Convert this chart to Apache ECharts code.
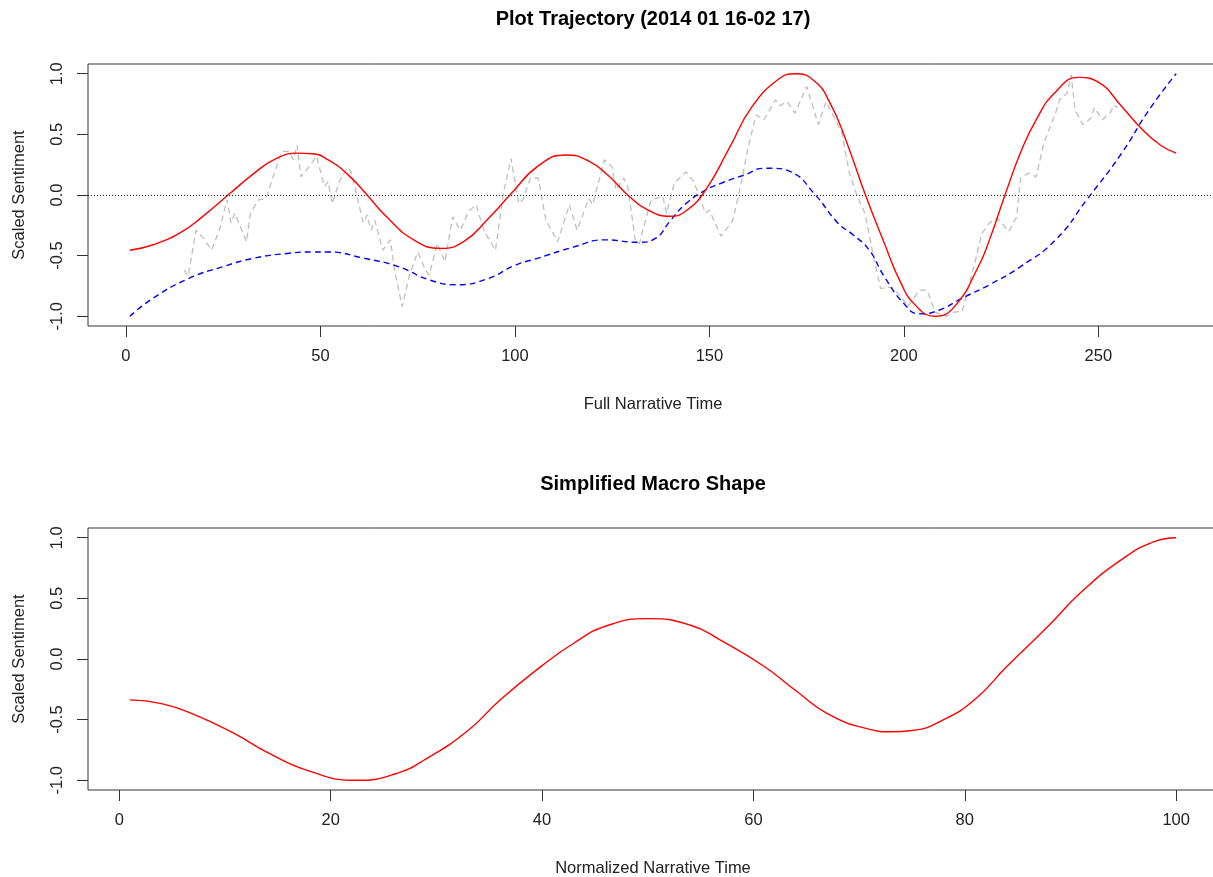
<!DOCTYPE html>
<html>
<head>
<meta charset="utf-8">
<script src="https://cdn.jsdelivr.net/npm/echarts@6/dist/echarts.min.js"></script>
<style>
  html, body { margin: 0; padding: 0; background: #fff; }
  #main { width: 1213px; height: 877px; }
</style>
</head>
<body>
<div id="main"></div>
<script>
// top panel: full narrative time
var trajX = [1, 7, 14, 20, 27, 33, 38, 44, 48, 52, 57, 62, 67, 74, 81, 87, 93, 99, 106, 113, 119, 124, 129, 134, 140, 144, 149, 155, 161, 168, 172, 177, 181, 185, 190, 195, 199, 203, 208, 213, 219, 222, 226, 230, 234, 239, 245, 250, 256, 261, 266, 270];
var trajY = [-0.455, -0.41, -0.31, -0.17, 0.02, 0.18, 0.29, 0.345, 0.34, 0.29, 0.17, 0.0, -0.18, -0.37, -0.44, -0.38, -0.2, 0.01, 0.24, 0.33, 0.28, 0.16, 0.0, -0.12, -0.175, -0.13, 0.04, 0.38, 0.73, 0.96, 1.0, 0.94, 0.76, 0.46, 0.01, -0.4, -0.71, -0.91, -1.0, -0.92, -0.6, -0.37, 0.0, 0.35, 0.62, 0.85, 0.97, 0.93, 0.73, 0.55, 0.41, 0.345];

var trendX = [1, 7, 16, 25, 33, 42, 48, 52, 61, 70, 78, 85, 93, 100, 106, 115, 123, 132, 136, 140, 144, 149, 153, 159, 164, 166, 171, 177, 183, 187, 191, 195, 200, 204, 209, 215, 222, 230, 239, 247, 256, 263, 270];
var trendY = [-1.0, -0.85, -0.69, -0.59, -0.52, -0.48, -0.47, -0.47, -0.52, -0.59, -0.70, -0.74, -0.69, -0.58, -0.52, -0.43, -0.37, -0.39, -0.36, -0.21, -0.07, 0.04, 0.097, 0.165, 0.22, 0.22, 0.19, 0.01, -0.23, -0.33, -0.45, -0.675, -0.895, -0.98, -0.95, -0.85, -0.74, -0.59, -0.37, -0.04, 0.345, 0.70, 1.0];

var rollX = [15, 16, 18, 20, 22, 24, 26, 27, 28, 31, 32, 34, 36, 40, 42, 43, 44, 45, 47, 49, 51, 52, 53, 55, 57, 58, 61, 62, 63, 64, 66, 68, 69, 71, 73, 75, 77, 78, 80, 82, 84, 86, 88, 90, 92, 95, 97, 99, 101, 102, 104, 106, 107, 108, 111, 114, 116, 119, 120, 123, 125, 126, 128, 129, 131, 132, 135, 138, 139, 141, 144, 146, 149, 150, 153, 156, 158, 160, 162, 164, 167, 168, 170, 172, 175, 178, 180, 184, 186, 188, 190, 192, 194, 197, 200, 201, 204, 206, 208, 211, 213, 215, 218, 220, 222, 224, 227, 229, 230, 232, 234, 236, 239, 240, 242, 243, 244, 246, 248, 249, 251, 253, 254, 255];
var rollY = [-0.62, -0.67, -0.29, -0.36, -0.455, -0.29, -0.04, -0.23, -0.15, -0.385, -0.15, -0.04, -0.03, 0.36, 0.36, 0.29, 0.41, 0.15, 0.23, 0.32, 0.07, 0.11, -0.07, 0.12, 0.23, 0.18, -0.23, -0.165, -0.29, -0.21, -0.455, -0.37, -0.61, -0.92, -0.65, -0.47, -0.62, -0.66, -0.40, -0.55, -0.18, -0.29, -0.14, -0.08, -0.29, -0.455, 0.01, 0.30, -0.07, -0.04, 0.14, 0.14, -0.04, -0.21, -0.385, -0.08, -0.29, -0.03, -0.08, 0.29, 0.23, 0.04, 0.14, 0.07, -0.385, -0.40, -0.04, -0.01, -0.15, 0.10, 0.19, 0.11, -0.15, -0.124, -0.34, -0.21, 0.07, 0.40, 0.66, 0.62, 0.785, 0.735, 0.77, 0.675, 0.895, 0.58, 0.77, 0.52, 0.18, -0.01, -0.15, -0.48, -0.77, -0.76, -0.87, -0.92, -0.785, -0.785, -0.965, -1.0, -0.965, -0.96, -0.59, -0.32, -0.23, -0.19, -0.30, -0.18, 0.14, 0.18, 0.15, 0.43, 0.675, 0.785, 0.84, 0.99, 0.70, 0.58, 0.63, 0.72, 0.62, 0.675, 0.74, 0.72];

// bottom panel: normalized narrative time
var macroX = [1, 4, 7, 11, 14, 18, 22.5, 26, 29, 33, 36, 40, 43, 46, 50, 54, 57, 61, 64, 67, 71, 73, 75, 78, 81, 84, 88, 91, 95, 98, 100];
var macroY = [-0.337, -0.368, -0.455, -0.62, -0.77, -0.925, -1.0, -0.95, -0.825, -0.59, -0.34, -0.055, 0.13, 0.27, 0.333, 0.28, 0.15, -0.06, -0.26, -0.45, -0.58, -0.60, -0.59, -0.5, -0.33, -0.06, 0.28, 0.55, 0.83, 0.97, 1.0];

var xTicksTop = [0, 50, 100, 150, 200, 250];
var xTicksBottom = [0, 20, 40, 60, 80, 100];
var yTicks = [-1, -0.5, 0, 0.5, 1];

function pairs(xs, ys) {
  return xs.map(function (x, i) { return [x, ys[i]]; });
}

var font = 'Liberation Sans, Arial, sans-serif';
var ink = '#222';

function xAxisOpt(idx, min, max, ticks, name) {
  return {
    type: 'value', gridIndex: idx, min: min, max: max,
    name: name, nameLocation: 'middle', nameGap: 70,
    nameTextStyle: { fontFamily: font, fontSize: 16.5, color: ink },
    splitLine: { show: false },
    axisLine: { show: false, onZero: false },
    axisTick: { show: true, length: 11, customValues: ticks, lineStyle: { color: '#333' } },
    axisLabel: { customValues: ticks, margin: 22, fontFamily: font, fontSize: 16.5, color: ink }
  };
}

function yAxisOpt(idx) {
  return {
    type: 'value', gridIndex: idx, min: -1.08, max: 1.08,
    name: 'Scaled Sentiment', nameLocation: 'middle', nameGap: 60, nameRotate: 90,
    nameTextStyle: { fontFamily: font, fontSize: 16.5, color: ink },
    splitLine: { show: false },
    axisLine: { show: false, onZero: false },
    axisTick: { show: true, length: 11, customValues: yTicks, lineStyle: { color: '#333' } },
    axisLabel: {
      customValues: yTicks, rotate: 90, margin: 22,
      fontFamily: font, fontSize: 16.5, color: ink,
      formatter: function (v) { return v.toFixed(1); }
    }
  };
}

var chart = echarts.init(document.getElementById('main'));

var option = {
  animation: false,
  backgroundColor: '#fff',
  title: [
    {
      text: 'Plot Trajectory (2014 01 16-02 17)', left: 653, top: 9, textAlign: 'center', padding: 0,
      textStyle: { fontFamily: font, fontSize: 20, fontWeight: 'bold', color: '#000' }
    },
    {
      text: 'Simplified Macro Shape', left: 653, top: 474, textAlign: 'center', padding: 0,
      textStyle: { fontFamily: font, fontSize: 20, fontWeight: 'bold', color: '#000' }
    }
  ],
  grid: [
    { left: 88, top: 64, width: 1130, height: 262, outerBoundsMode: 'none', containLabel: false, show: true, borderColor: '#333', borderWidth: 1, backgroundColor: 'transparent' },
    { left: 88, top: 528, width: 1130, height: 262, outerBoundsMode: 'none', containLabel: false, show: true, borderColor: '#333', borderWidth: 1, backgroundColor: 'transparent' }
  ],
  xAxis: [
    xAxisOpt(0, -9.76, 280.76, xTicksTop, 'Full Narrative Time'),
    xAxisOpt(1, -2.96, 103.96, xTicksBottom, 'Normalized Narrative Time')
  ],
  yAxis: [yAxisOpt(0), yAxisOpt(1)],
  series: [
    {
      type: 'line', xAxisIndex: 0, yAxisIndex: 0,
      data: pairs(rollX, rollY), showSymbol: false, smooth: false,
      lineStyle: { color: '#bebebe', width: 1.3, type: [6, 4] },
      z: 1
    },
    {
      type: 'line', xAxisIndex: 0, yAxisIndex: 0,
      data: pairs(trendX, trendY), showSymbol: false, smooth: 0.5,
      lineStyle: { color: '#0000ff', width: 1.4, type: [6, 4] },
      z: 2
    },
    {
      type: 'line', xAxisIndex: 0, yAxisIndex: 0,
      data: pairs(trajX, trajY), showSymbol: false, smooth: 0.5,
      lineStyle: { color: '#ff0000', width: 1.4 },
      z: 3,
      markLine: {
        silent: true, symbol: 'none', label: { show: false },
        lineStyle: { color: '#222', width: 1, type: [1, 2] },
        data: [{ yAxis: 0 }]
      }
    },
    {
      type: 'line', xAxisIndex: 1, yAxisIndex: 1,
      data: pairs(macroX, macroY), showSymbol: false, smooth: 0.5,
      lineStyle: { color: '#ff0000', width: 1.4 }
    }
  ]
};

chart.setOption(option);
</script>
</body>
</html>
